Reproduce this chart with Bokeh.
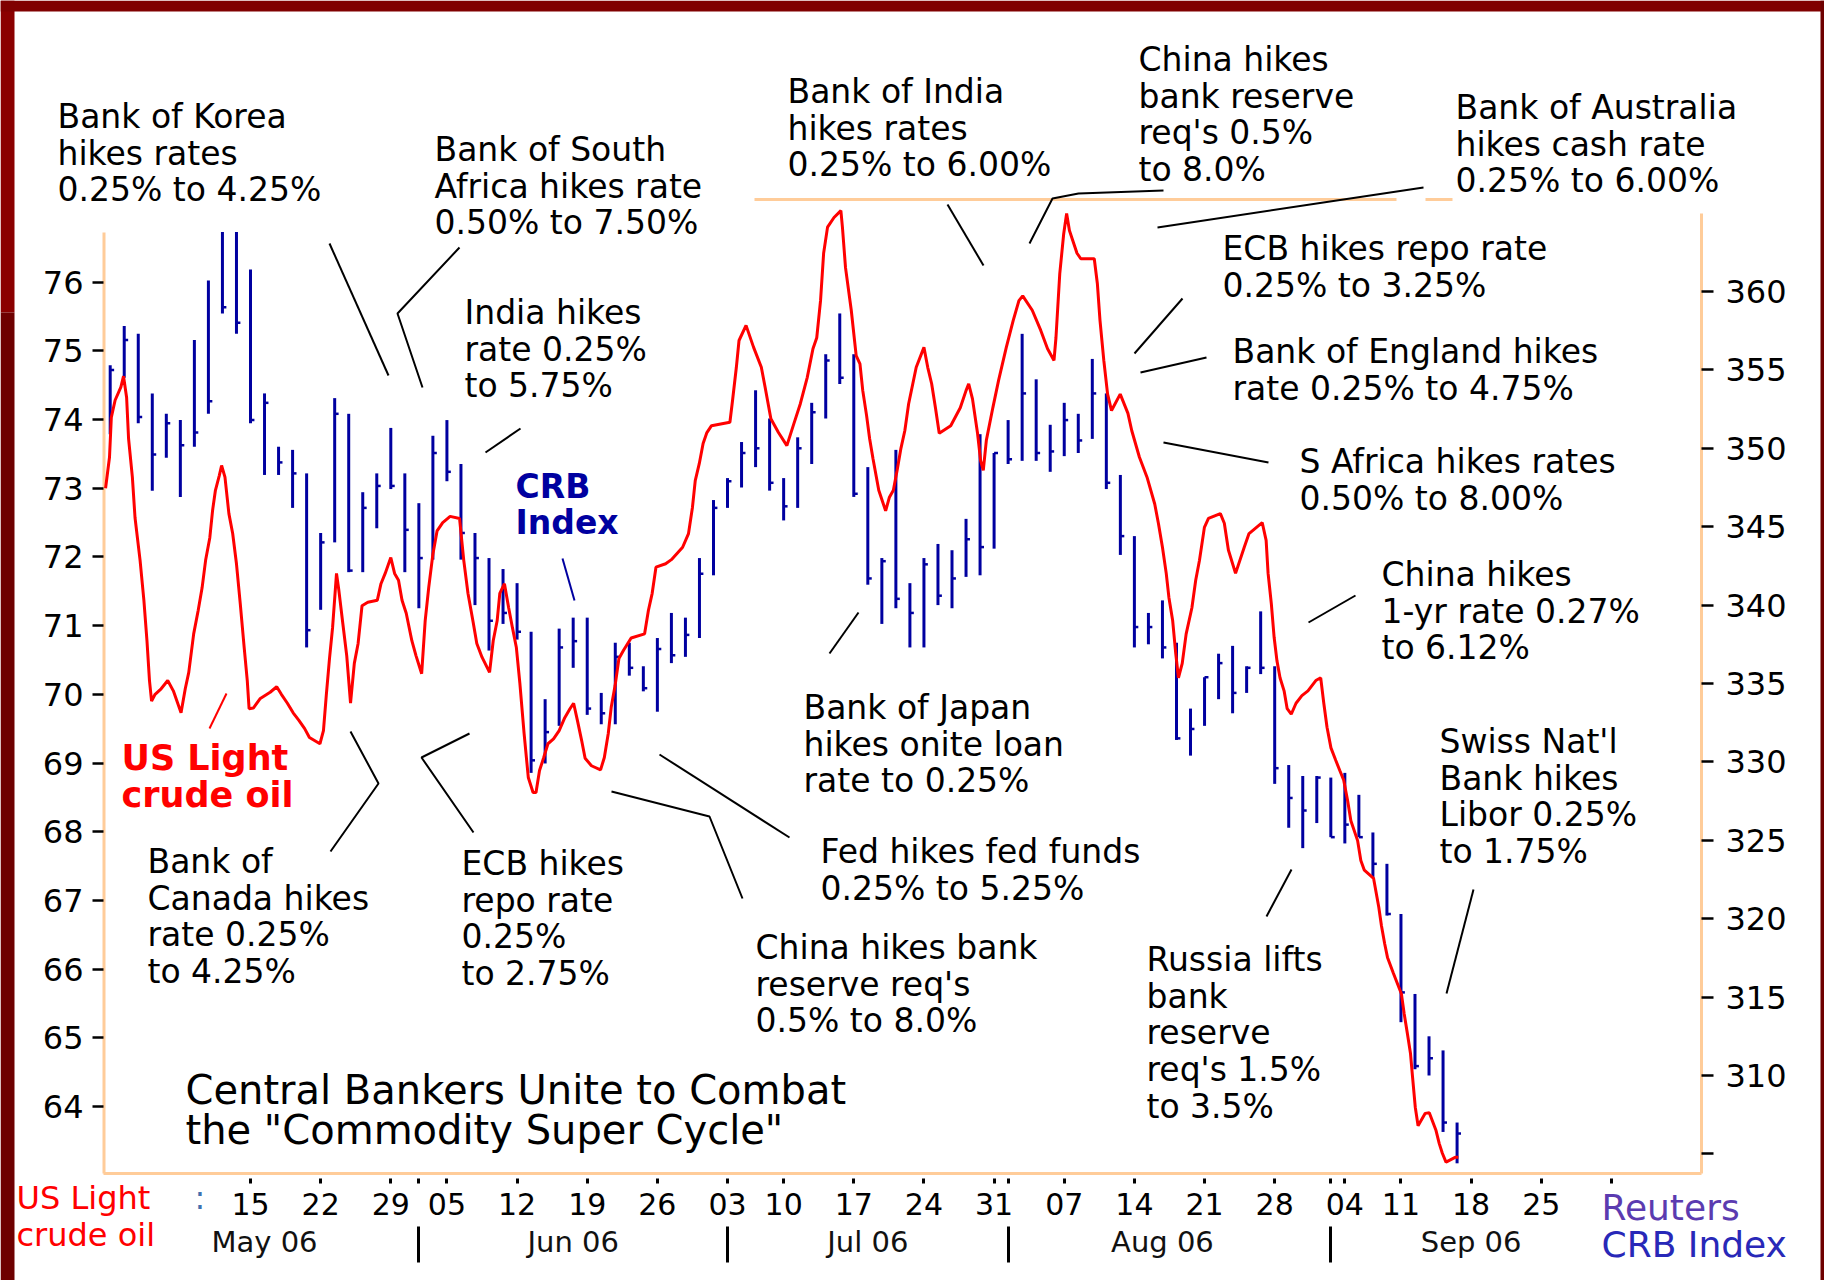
from bokeh.plotting import figure
from bokeh.models import Range1d, LinearAxis, FixedTicker, Label
from bokeh.embed import file_html
from bokeh.resources import INLINE

# ---------------- data (x = trading day index, 0 = 1 May 2006) ----------------
crb_high = [355.3, 357.8, 357.3, 353.5, 352.2, 351.8, 356.9, 360.7, 363.8, 363.8,
            361.4, 353.5, 350.1, 349.9, 348.4, 344.6, 353.2, 352.2, 347.2, 348.4,
            351.3, 348.4, 346.5, 350.8, 351.8, 349.0, 344.6, 343.0, 342.3, 341.4,
            338.3, 334.0, 338.5, 339.2, 339.2, 334.4, 337.6, 337.6, 336.1, 337.9,
            339.5, 339.2, 343.0, 346.7, 348.1, 350.4, 353.7, 351.9, 348.1, 350.7,
            352.9, 356.0, 358.6, 356.0, 348.8, 343.0, 349.9, 341.4, 343.0, 343.9,
            343.5, 345.5, 350.9, 349.7, 351.8, 357.3, 354.4, 351.5, 352.9, 352.2,
            355.7, 353.5, 348.3, 344.4, 339.5, 340.3, 337.6, 333.4, 335.4, 336.9,
            337.4, 336.1, 339.6, 336.1, 329.8, 329.1, 329.1, 329.0, 329.3, 327.9,
            325.5, 323.5, 320.3, 315.2, 312.5, 311.6, 307.0]
crb_low = [350.9, 354.5, 351.6, 347.3, 349.4, 346.9, 350.1, 352.2, 358.6, 357.3,
           351.6, 348.3, 348.3, 346.2, 337.3, 339.7, 344.0, 342.1, 342.1, 344.9,
           347.4, 342.1, 339.8, 342.9, 347.9, 342.9, 340.0, 337.1, 338.8, 337.8,
           329.3, 329.9, 332.3, 336.0, 333.0, 332.4, 332.4, 335.5, 334.5, 333.2,
           336.3, 336.7, 337.9, 341.9, 346.2, 347.5, 348.8, 347.3, 345.4, 346.2,
           349.0, 351.9, 354.1, 346.9, 341.3, 338.8, 339.8, 337.3, 337.3, 340.0,
           339.8, 341.8, 341.9, 343.6, 349.0, 349.2, 349.2, 348.5, 349.5, 349.7,
           350.6, 347.4, 343.2, 337.3, 337.5, 336.6, 331.4, 330.4, 332.3, 334.0,
           333.1, 334.4, 335.6, 328.6, 325.8, 324.5, 326.1, 325.2, 324.8, 325.2,
           322.6, 320.2, 313.4, 310.4, 310.0, 306.4, 304.4]
crb_close = [355.0, 356.9, 352.0, 349.6, 351.6, 350.2, 351.0, 353.0, 359.0, 358.0,
             351.8, 352.9, 349.1, 348.4, 338.4, 344.0, 352.2, 342.2, 346.2, 347.6,
             347.6, 344.8, 343.0, 349.7, 348.5, 344.6, 343.0, 339.0, 339.5, 338.3,
             330.1, 331.9, 337.3, 337.7, 333.4, 333.1, 336.7, 336.0, 334.7, 337.2,
             336.8, 338.1, 342.0, 346.2, 347.9, 349.7, 350.0, 347.8, 346.3, 350.0,
             352.3, 355.6, 354.5, 347.1, 341.7, 342.8, 340.4, 339.5, 342.6, 340.6,
             341.7, 344.2, 343.7, 349.7, 349.3, 353.5, 349.7, 349.8, 351.8, 350.5,
             353.5, 347.8, 344.4, 338.6, 338.6, 337.3, 331.5, 332.1, 335.4, 336.3,
             334.4, 336.0, 336.0, 329.6, 327.7, 326.9, 329.0, 325.2, 326.0, 325.2,
             323.5, 320.3, 315.3, 310.6, 311.1, 307.0, 306.3]
crb_day = list(range(len(crb_high)))

oil_day = [-0.33, -0.05, 0.08, 0.35, 0.76, 0.95, 1.17, 1.31, 1.58, 1.77,
           2.13, 2.4, 2.62, 2.8, 2.95, 3.2, 3.63, 4.1, 4.5, 5.05,
           5.35, 5.6, 5.95, 6.27, 6.55, 6.8, 7.1, 7.3, 7.5, 7.77,
           7.94, 8.18, 8.46, 8.73, 9.0, 9.27, 9.55, 9.77, 9.9, 10.2,
           10.7, 11.4, 11.87, 12.2, 12.63, 13.04, 13.45, 13.86, 14.2, 14.95,
           15.2, 15.4, 15.63, 15.85, 16.13, 16.3, 16.58, 16.86, 17.13, 17.4,
           17.67, 17.95, 18.36, 19.04, 19.3, 19.6, 20.0, 20.27, 20.55, 20.8,
           21.1, 21.5, 21.8, 22.2, 22.45, 22.7, 23.0, 23.3, 23.7, 24.23,
           24.9, 25.2, 25.5, 25.87, 26.13, 26.5, 27.04, 27.3, 27.58, 27.77,
           28.1, 28.4, 28.67, 28.95, 29.2, 29.5, 29.8, 30.14, 30.35, 30.6,
           30.9, 31.2, 31.6, 32.0, 32.4, 32.77, 33.03, 33.3, 33.6, 33.85,
           34.3, 34.95, 35.22, 35.5, 35.71, 35.99, 36.26, 36.59, 37.13, 38.09,
           38.36, 38.63, 38.9, 39.59, 40.0, 40.8, 41.22, 41.5, 41.7, 41.99,
           42.26, 42.53, 42.86, 44.17, 44.36, 44.63, 44.82, 45.32, 45.86, 46.41,
           46.68, 47.09, 47.63, 48.23, 48.73, 49.19, 49.68, 50.09, 50.36, 50.63,
           50.85, 51.13, 51.59, 52.08, 52.19, 52.41, 52.82, 53.17, 53.44, 53.64,
           53.91, 54.13, 54.37, 54.78, 55.27, 55.54, 55.82, 56.09, 56.36, 56.64,
           56.91, 57.45, 58.0, 58.27, 58.55, 58.82, 59.09, 59.91, 60.59, 61.0,
           61.19, 61.46, 61.82, 62.04, 62.23, 62.45, 62.91, 63.32, 63.87, 64.36,
           64.77, 65.04, 65.72, 66.32, 66.81, 67.27, 67.41, 67.68, 67.96, 68.17,
           68.37, 68.91, 69.18, 70.14, 70.36, 70.55, 70.82, 71.09, 71.37, 71.99,
           72.54, 72.81, 73.36, 73.9, 74.45, 74.72, 75.0, 75.27, 75.46, 75.73,
           75.95, 76.14, 76.41, 76.69, 77.1, 77.37, 77.64, 77.99, 78.28, 79.13,
           79.41, 79.7, 80.21, 80.83, 81.17, 82.11, 82.39, 82.53, 82.76, 82.96,
           83.16, 83.38, 83.67, 83.89, 84.18, 84.52, 84.94, 85.37, 85.93, 86.28,
           86.5, 86.73, 87.01, 87.35, 87.64, 87.92, 88.2, 88.43, 88.91, 89.14,
           89.39, 90.05, 90.42, 90.61, 90.84, 91.04, 91.46, 92.03, 92.23, 92.46,
           92.68, 92.83, 93.02, 93.22, 93.73, 94.02, 94.5, 94.73, 94.95, 95.21,
           95.86, 96.09]
oil_price = [73.0, 73.45, 74.03, 74.28, 74.47, 74.63, 74.32, 73.72, 73.16, 72.57,
             71.95, 71.37, 70.78, 70.2, 69.9, 70.0, 70.08, 70.2, 70.05, 69.73,
             70.08, 70.32, 70.88, 71.22, 71.55, 71.95, 72.28, 72.68, 72.97, 73.18,
             73.33, 73.16, 72.63, 72.34, 71.9, 71.32, 70.68, 70.2, 69.79, 69.8,
             69.94, 70.03, 70.11, 70.0, 69.87, 69.73, 69.62, 69.5, 69.37, 69.28,
             69.47, 69.98, 70.52, 70.97, 71.76, 71.51, 71.03, 70.56, 69.87, 70.45,
             70.74, 71.29, 71.34, 71.37, 71.61, 71.76, 71.99, 71.76, 71.66, 71.37,
             71.18, 70.78, 70.56, 70.3, 71.07, 71.55, 72.04, 72.38, 72.5, 72.59,
             72.56, 71.95, 71.47, 71.05, 70.74, 70.54, 70.32, 70.78, 71.07, 71.47,
             71.61, 71.26, 70.97, 70.68, 70.16, 69.43, 68.79, 68.57, 68.57, 68.89,
             69.08, 69.28, 69.35, 69.47, 69.66, 69.79, 69.87, 69.62, 69.33, 69.07,
             68.96, 68.9, 69.08, 69.43, 69.81, 70.13, 70.52, 70.64, 70.82, 70.88,
             71.22, 71.47, 71.85, 71.9, 71.96, 72.14, 72.34, 72.72, 73.11, 73.36,
             73.65, 73.81, 73.91, 73.96, 74.28, 74.76, 75.15, 75.37, 75.05, 74.76,
             74.47, 74.01, 73.81, 73.62, 73.94, 74.23, 74.61, 75.03, 75.19, 75.73,
             76.42, 76.8, 76.94, 77.04, 76.8, 76.21, 75.59, 74.93, 74.81, 74.42,
             74.06, 73.72, 73.43, 72.97, 72.67, 72.87, 72.97, 73.26, 73.58, 73.84,
             74.23, 74.76, 75.05, 74.76, 74.52, 74.17, 73.8, 73.91, 74.17, 74.42,
             74.52, 74.3, 73.8, 73.4, 73.26, 73.7, 74.17, 74.57, 75.05, 75.44,
             75.73, 75.8, 75.59, 75.3, 75.03, 74.86, 75.19, 76.12, 76.7, 77.0,
             76.75, 76.42, 76.34, 76.34, 75.98, 75.44, 74.86, 74.37, 74.13, 74.37,
             74.09, 73.84, 73.45, 73.16, 72.77, 72.48, 72.14, 71.76, 71.41, 71.07,
             70.59, 70.24, 70.45, 70.88, 71.26, 71.66, 71.95, 72.43, 72.56, 72.63,
             72.49, 72.1, 71.76, 72.14, 72.34, 72.5, 72.24, 71.76, 71.32, 70.83,
             70.49, 70.24, 70.05, 69.79, 69.71, 69.87, 69.98, 70.05, 70.2, 70.24,
             69.87, 69.52, 69.22, 69.04, 68.89, 68.75, 68.45, 68.16, 67.87, 67.58,
             67.44, 67.32, 66.9, 66.63, 66.37, 66.17, 65.94, 65.64, 65.35, 65.06,
             64.77, 64.42, 63.99, 63.72, 63.9, 63.91, 63.65, 63.46, 63.32, 63.19,
             63.26, 63.26]

oil_ticks = [64, 65, 66, 67, 68, 69, 70, 71, 72, 73, 74, 75, 76]
crb_ticks = [305, 310, 315, 320, 325, 330, 335, 340, 345, 350, 355, 360]
day_ticks = [10, 15, 20, 22, 24, 29, 34, 39, 44, 48, 53, 58, 63, 64,
             68, 73, 78, 83, 87, 88, 92, 97, 102, 107]
day_labels = ["15", "22", "29", "", "05", "12", "19", "26", "03", "10", "17", "24", "31", "",
              "07", "14", "21", "28", "", "04", "11", "18", "25", ""]
month_starts = [0, 22, 44, 64, 87, 107]
month_labels = ["May 06", "Jun 06", "Jul 06", "Aug 06", "Sep 06"]

# ---------------- geometry helpers (reference pixel -> data) ----------------
W, H = 1824, 1280

def px_x(fx):
    return 10 + (fx - 250) / 14.03

def px_y(fy):
    return 74 - (fy - 419) / 68.7

def px_crb(fy):
    return 360 - (fy - 291) / 15.68

FONT = "DejaVu Sans"
FL, FR, FB = 103, 1701, 1173

p = figure(frame_width=W, frame_height=H,
           x_range=Range1d(px_x(0), px_x(W)),
           y_range=Range1d(px_y(H), px_y(0)),
           x_axis_location=None, y_axis_location=None,
           output_backend="svg", toolbar_location=None,
           min_border=0, min_border_left=0, min_border_right=0,
           min_border_top=0, min_border_bottom=0,
           background_fill_color="white", border_fill_color="white",
           outline_line_color=None)
p.extra_y_ranges = {"crb": Range1d(px_crb(H), px_crb(0))}
p.grid.visible = False

# dark red page border
bands = [(0, 14, 0, 312, "#8B0000"), (0, 14, 312, H, "#6E0000"),
         (0, W, 0, 11, "#800000"), (1820, W, 0, H, "#6E0000")]
p.quad(left=[px_x(b[0]) for b in bands], right=[px_x(b[1]) for b in bands],
       top=[px_y(b[2]) for b in bands], bottom=[px_y(b[3]) for b in bands],
       fill_color=[b[4] for b in bands], line_color=None)

# axes (fixed at the chart frame)
yl = LinearAxis(ticker=FixedTicker(ticks=oil_ticks), fixed_location=px_x(FL))
yr = LinearAxis(y_range_name="crb", ticker=FixedTicker(ticks=crb_ticks),
                major_label_overrides={305: ""}, fixed_location=px_x(FR))
for ax, st, to in ((yl, 9, 11), (yr, 12, 12)):
    ax.axis_line_color = None
    ax.major_tick_in = 0
    ax.major_tick_out = to
    ax.major_tick_line_width = 2.5
    ax.major_tick_line_color = "black"
    ax.minor_tick_line_color = None
    ax.major_label_standoff = st
    ax.major_label_text_font = FONT
    ax.major_label_text_font_size = "32px"
    ax.major_label_text_color = "black"
p.add_layout(yl, "left")
p.add_layout(yr, "right")

xd = LinearAxis(ticker=FixedTicker(ticks=day_ticks), fixed_location=px_y(FB),
                major_label_overrides=dict(zip(day_ticks, day_labels)))
xd.axis_line_color = None
xd.major_tick_in = -5
xd.major_tick_out = 10
xd.major_tick_line_width = 3
xd.minor_tick_line_color = None
xd.major_label_standoff = 9
xd.major_label_text_font = FONT
xd.major_label_text_font_size = "30px"
xd.major_label_text_color = "black"
p.add_layout(xd, "below")

month_bounds = month_starts[1:-1]
xs = LinearAxis(ticker=FixedTicker(ticks=month_bounds), fixed_location=px_y(1226),
                major_label_overrides={m: "" for m in month_bounds})
xs.axis_line_color = None
xs.major_tick_in = 0
xs.major_tick_out = 36
xs.major_tick_line_width = 3
xs.major_tick_line_color = "black"
xs.minor_tick_line_color = None
xs.major_label_text_font_size = "1px"
p.add_layout(xs, "below")

month_centers = [(a + b) // 2 for a, b in zip(month_starts[:-1], month_starts[1:])]
xm = LinearAxis(ticker=FixedTicker(ticks=month_centers), fixed_location=px_y(1218),
                major_label_overrides=dict(zip(month_centers, month_labels)))
xm.axis_line_color = None
xm.major_tick_line_color = None
xm.major_tick_out = 0
xm.major_tick_in = 0
xm.minor_tick_line_color = None
xm.major_label_standoff = 6
xm.major_label_text_font = FONT
xm.major_label_text_font_size = "29px"
xm.major_label_text_color = "#111111"
p.add_layout(xm, "below")

# peach frame pieces
frame_px = [((103.5, 232), (103.5, 1173)), ((1701, 213), (1701, 1173)),
            ((103, 1173), (1701, 1173)), ((754, 199), (1396, 199)),
            ((1425, 199), (1452, 199))]
p.segment(x0=[px_x(a[0]) for a, b in frame_px], y0=[px_y(a[1]) for a, b in frame_px],
          x1=[px_x(b[0]) for a, b in frame_px], y1=[px_y(b[1]) for a, b in frame_px],
          line_color="#FFCC99", line_width=3)

# CRB bars (high-low with close tick)
p.segment(x0=crb_day, x1=crb_day, y0=crb_low, y1=crb_high,
          line_color="#0000A0", line_width=3, y_range_name="crb")
p.segment(x0=crb_day, x1=[d + 0.28 for d in crb_day], y0=crb_close, y1=crb_close,
          line_color="#0000A0", line_width=2.5, y_range_name="crb")

# oil line
p.line(oil_day, oil_price, line_color="#FF0000", line_width=3)

# leader lines
leaders = [
    [(329, 243), (388, 375)],
    [(459, 247), (397, 313), (422, 387)],
    [(485, 452), (520, 428)],
    [(350, 731), (378, 783), (330, 851)],
    [(469, 733), (421, 757), (473, 832)],
    [(611, 791), (709, 816), (742, 898)],
    [(659, 754), (789, 837)],
    [(829, 653), (858, 612)],
    [(947, 204), (983, 265)],
    [(1029, 243), (1052, 198), (1078, 193), (1163, 190)],
    [(1157, 227), (1423, 187)],
    [(1134, 353), (1182, 298)],
    [(1140, 372), (1206, 357)],
    [(1163, 442), (1268, 462)],
    [(1308, 622), (1355, 595)],
    [(1266, 916), (1291, 869)],
    [(1446, 993), (1473, 889)],
]
p.multi_line(xs=[[px_x(a) for a, b in L] for L in leaders],
             ys=[[px_y(b) for a, b in L] for L in leaders],
             line_color="black", line_width=2)
p.line([px_x(209), px_x(226)], [px_y(728), px_y(693)], line_color="#FF0000", line_width=2)
p.line([px_x(562), px_x(574)], [px_y(558), px_y(600)], line_color="#0000A0", line_width=2)

# annotations
BASE_FIX = 11

def block(x_px, y_px, lines, size=33, color="#000000", style="normal", pitch=36.7):
    for i, t in enumerate(lines):
        p.add_layout(Label(x=px_x(x_px), y=px_y(y_px - BASE_FIX + i * pitch), text=t,
                           text_font=FONT, text_font_size=f"{size}px",
                           text_color=color, text_font_style=style,
                           text_baseline="alphabetic", text_align="left"))

block(57, 127, ["Bank of Korea", "hikes rates", "0.25% to 4.25%"])
block(434, 160, ["Bank of South", "Africa hikes rate", "0.50% to 7.50%"])
block(464, 323, ["India hikes", "rate 0.25%", "to 5.75%"])
block(147, 872, ["Bank of", "Canada hikes", "rate 0.25%", "to 4.25%"])
block(461, 874, ["ECB hikes", "repo rate", "0.25%", "to 2.75%"])
block(755, 958, ["China hikes bank", "reserve req's", "0.5% to 8.0%"])
block(820, 862, ["Fed hikes fed funds", "0.25% to 5.25%"])
block(803, 718, ["Bank of Japan", "hikes onite loan", "rate to 0.25%"])
block(787, 102, ["Bank of India", "hikes rates", "0.25% to 6.00%"])
block(1138, 70, ["China hikes", "bank reserve", "req's 0.5%", "to 8.0%"])
block(1455, 118, ["Bank of Australia", "hikes cash rate", "0.25% to 6.00%"])
block(1222, 259, ["ECB hikes repo rate", "0.25% to 3.25%"])
block(1232, 362, ["Bank of England hikes", "rate 0.25% to 4.75%"])
block(1299, 472, ["S Africa hikes rates", "0.50% to 8.00%"])
block(1381, 585, ["China hikes", "1-yr rate 0.27%", "to 6.12%"])
block(1439, 752, ["Swiss Nat'l", "Bank hikes", "Libor 0.25%", "to 1.75%"])
block(1146, 970, ["Russia lifts", "bank", "reserve", "req's 1.5%", "to 3.5%"])
block(185, 1100, ["Central Bankers Unite to Combat", 'the "Commodity Super Cycle"'],
      size=40, pitch=40)
block(515, 497, ["CRB", "Index"], size=33, color="#0000A0", style="bold", pitch=36)
block(121, 768, ["US Light", "crude oil"], size=35, color="#FF0000", style="bold", pitch=37)
block(16, 1208, ["US Light", "crude oil"], size=32, color="#FF0000", pitch=37)
block(194, 1208, [":"], size=32, color="#4070B0")
block(1601, 1218, ["Reuters"], size=36, color="#5B3BB0")
block(1601, 1255, ["CRB Index"], size=36, color="#2828B8")

open("out.html", "w").write(file_html(p, INLINE))
